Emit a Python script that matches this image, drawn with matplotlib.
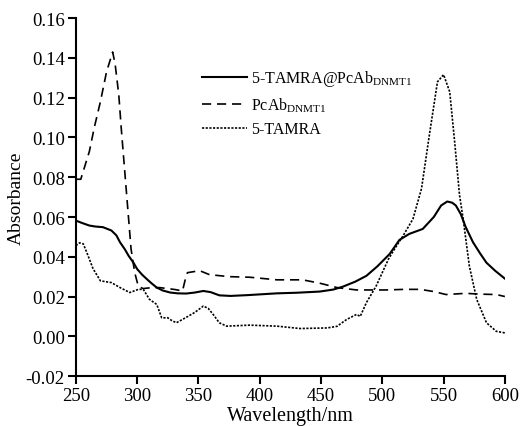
import matplotlib.pyplot as plt
import numpy as np

plt.rcParams['font.family'] = ['Liberation Serif', 'DejaVu Serif']
plt.rcParams['mathtext.fontset'] = 'custom'
plt.rcParams['mathtext.rm'] = 'Liberation Serif'

# UV-Vis absorbance spectra
wl_conj = [250, 255, 261, 266, 272, 279, 283, 286, 290, 293, 297, 300, 304, 308, 312, 316,
           321, 327, 333, 340, 347, 354, 360, 367, 376, 390, 414, 430, 449, 460, 468, 478,
           487, 496, 506, 514, 522, 533, 542, 548, 553, 557, 560, 564, 568, 574, 580, 585,
           592, 600]
abs_conj = [0.0582, 0.0570, 0.0557, 0.0552, 0.0549, 0.0532, 0.0508, 0.0473, 0.0437, 0.0405,
            0.0370, 0.0338, 0.0310, 0.0287, 0.0265, 0.0245, 0.0230, 0.0220, 0.0216, 0.0215,
            0.0220, 0.0228, 0.0222, 0.0206, 0.0203, 0.0207, 0.0216, 0.0219, 0.0225, 0.0235,
            0.0250, 0.0275, 0.0304, 0.0352, 0.0414, 0.0485, 0.0515, 0.0540, 0.0600, 0.0658,
            0.0678, 0.0672, 0.0658, 0.0615, 0.0550, 0.0473, 0.0415, 0.0370, 0.0330, 0.0290]

wl_ab = [250, 254, 258, 261, 265, 270, 275, 280, 282, 285, 287, 291, 295, 298, 301, 305, 312,
         318, 325, 331, 337, 339, 341, 351, 359, 375, 392, 414, 435, 449, 463, 479, 503,
         518, 531, 542, 552, 568, 580, 593, 600]
abs_ab = [0.0790, 0.0790, 0.0870, 0.0930, 0.1050, 0.1180, 0.1330, 0.1430, 0.1370, 0.1215,
          0.1047, 0.0743, 0.0440, 0.0320, 0.0250, 0.0240, 0.0245, 0.0245, 0.0240, 0.0235,
          0.0228, 0.0280, 0.0320, 0.0330, 0.0310, 0.0300, 0.0297, 0.0284, 0.0284, 0.0267,
          0.0245, 0.0233, 0.0233, 0.0236, 0.0236, 0.0225, 0.0210, 0.0216, 0.0212, 0.0210,
          0.0200]

wl_dye = [250, 253, 256, 259, 264, 270, 279, 286, 294, 301, 305, 310, 316, 320, 325, 328,
          332, 340, 347, 354, 358, 362, 367, 373, 392, 414, 433, 455, 463, 471, 479, 482,
          487, 495, 505, 510, 517, 525, 532, 538, 545, 550, 555, 559, 563, 566, 571, 577,
          585, 593, 600]
abs_dye = [0.0456, 0.0470, 0.0465, 0.0420, 0.0340, 0.0279, 0.0270, 0.0245, 0.0220, 0.0236,
           0.0236, 0.0186, 0.0160, 0.0093, 0.0093, 0.0080, 0.0068, 0.0095, 0.0120, 0.0152,
           0.0140, 0.0110, 0.0068, 0.0051, 0.0056, 0.0051, 0.0039, 0.0042, 0.0050, 0.0085,
           0.0110, 0.0100, 0.0169, 0.0253, 0.0388, 0.0439, 0.0506, 0.0590, 0.0743, 0.0996,
           0.1280, 0.1316, 0.1230, 0.0980, 0.0710, 0.0590, 0.0354, 0.0186, 0.0068, 0.0025,
           0.0017]

labels = [r'5-TAMRA@PcAb$_{\mathrm{DNMT1}}$', r'PcAb$_{\mathrm{DNMT1}}$', '5-TAMRA']

fig = plt.figure(figsize=(5.27, 4.27), dpi=100)
ax = fig.add_axes([0.144, 0.117, 0.814, 0.838])

ax.plot(wl_conj, abs_conj, color='black', lw=1.5, label=labels[0])
ax.plot(wl_ab, abs_ab, color='black', lw=1.2, dashes=(5.5, 3.5), label=labels[1])
ax.plot(wl_dye, abs_dye, color='black', lw=1.2, dashes=(1.3, 0.9), label=labels[2])

ax.set_xlim(250, 600)
ax.set_ylim(-0.02, 0.16)
ax.set_xticks(np.arange(250, 601, 50))
ax.set_yticks(np.arange(-0.02, 0.161, 0.02))
ax.set_yticklabels(['%.2f' % v for v in np.arange(-0.02, 0.161, 0.02)])
ax.tick_params(direction='out', length=6, width=1.5, labelsize=13.5, pad=2)

for side in ['top', 'right']:
    ax.spines[side].set_visible(False)
for side in ['left', 'bottom']:
    ax.spines[side].set_linewidth(1.5)

ax.set_xlabel('Wavelength/nm', fontsize=14.5)
ax.set_ylabel('Absorbance', fontsize=14)
ax.xaxis.set_label_coords(0.5, -0.085)
ax.yaxis.set_label_coords(-0.12, 0.5)

ax.legend(loc='upper left', bbox_to_anchor=(0.26, 0.90), frameon=False,
          fontsize=11.5, handlelength=2.8, handletextpad=0.3, labelspacing=0.45)

plt.savefig('out.png', dpi=100)
